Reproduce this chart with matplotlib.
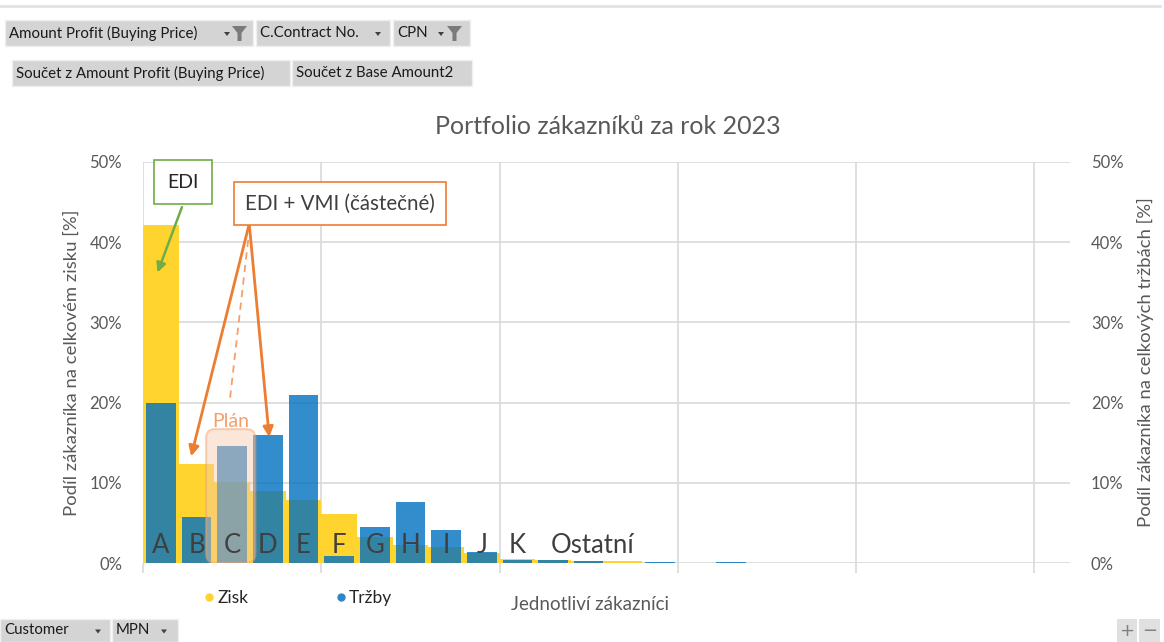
import numpy as np
import matplotlib
matplotlib.use("Agg")
import matplotlib.pyplot as plt
from matplotlib.patches import Rectangle, FancyBboxPatch, Polygon
from matplotlib.lines import Line2D

plt.rcParams['font.family'] = ['Lato', 'DejaVu Sans']

# data (percent shares per customer)
zakaznici = list("ABCDEFGHIJK") + [""] * 15
zisk = [42.2, 12.3, 10.1, 9.0, 7.9, 6.1, 3.2, 2.2, 2.0, 1.2, 0.5,
        0.4, 0.3, 0.2, 0, 0, 0, 0, 0, 0, 0, 0, 0, 0, 0, 0]
trzby = [20.0, 5.7, 14.6, 16.0, 21.0, 0.9, 4.5, 7.6, 4.1, 1.4, 0.4,
         0.35, 0.3, 0, 0.15, 0, 0.15, 0, 0, 0, 0, 0, 0, 0, 0, 0]
ostatni_label = "Ostatní"
ostatni_pos = 12.1
y_ticks = [0, 10, 20, 30, 40, 50]

W, H = 1164, 642
YELLOW = "#FFD42F"
BLUE = "#0070C0"
GRAY = "#595959"
GRID = "#D9D9D9"
ORANGE = "#ED7D31"

fig = plt.figure(figsize=(W / 100, H / 100), dpi=100)


def fx(px):
    return px / W


def fy(py):
    return 1 - py / H


ax = fig.add_axes([fx(143), fy(563), (1070 - 143) / W, (563 - 162) / H])
ax2 = ax.twinx()

x = np.arange(len(zakaznici))
ax.bar(x, zisk, width=1.0, color=YELLOW, zorder=2)
ax2.bar(x, trzby, width=0.83, color=BLUE, alpha=0.8, zorder=2)

for a in (ax, ax2):
    a.set_xlim(-0.5, len(zakaznici) - 0.5)
    a.set_ylim(0, 50)
    a.set_yticks(y_ticks)
    a.set_yticklabels([f"{v}%" for v in y_ticks])
    for s in a.spines.values():
        s.set_visible(False)
    a.tick_params(axis='y', length=0, colors=GRAY, labelsize=12, pad=15)

ax.set_xticks(np.arange(-0.5, len(zakaznici), 5))
ax.set_xticklabels([])
ax.tick_params(axis='x', length=7, color=GRID, width=1.2)
ax.grid(True, color=GRID, lw=1.2, zorder=0)
ax.set_axisbelow(True)

ax.set_ylabel("Podíl zákazníka na celkovém zisku [%]", color=GRAY, fontsize=13.3)
ax.yaxis.set_label_coords((80 - 143) / 927, 0.5)
ax2.set_ylabel("Podíl zákazníka na celkových tržbách [%]", color=GRAY, fontsize=13.3)
ax2.yaxis.set_label_coords((1137 - 143) / 927, 0.5)

# customer letters inside the bars
for i, lab in enumerate(zakaznici):
    if lab:
        ax2.text(i, 1.2, lab, ha='center', va='baseline', fontsize=18.5,
                 color="#3F3F3F", zorder=6)
ax2.text(ostatni_pos, 1.2, ostatni_label, ha='center', va='baseline',
         fontsize=18.5, color="#3F3F3F", zorder=6)

# "Plán" highlight around customer C
plan = FancyBboxPatch((1.27, 0.0), 1.38, 16.7,
                      boxstyle="round,pad=0,rounding_size=0.25",
                      mutation_aspect=4.4, transform=ax2.transData,
                      facecolor="#F8CBAD", alpha=0.45, edgecolor="#F4A06A",
                      lw=1.6, zorder=5)
ax2.add_patch(plan)
ax2.text(1.95, 16.6, "Plán", ha='center', va='bottom', fontsize=14,
         color="#F4A06A", zorder=6)

# EDI callout
ax2.annotate("", xy=(-0.12, 35.9), xytext=(0.62, 44.7),
             arrowprops=dict(arrowstyle="-|>", color="#70AD47", lw=1.8,
                             mutation_scale=14), zorder=7)
ax2.text(0.62, 47.5, "EDI", ha='center', va='center', fontsize=14,
         color="#262626", zorder=8,
         bbox=dict(boxstyle="square,pad=0.7", fc="white", ec="#70AD47", lw=1.2))

# EDI + VMI callout
for tip in [(0.85, 13.3), (3.04, 15.7)]:
    ax2.annotate("", xy=tip, xytext=(2.48, 42.3),
                 arrowprops=dict(arrowstyle="-|>", color=ORANGE, lw=2,
                                 mutation_scale=15, shrinkA=0, shrinkB=0),
                 zorder=7)
ax2.plot([2.45, 1.94], [40.3, 20.5], ls=(0, (4, 3)), color="#F4A06A",
         lw=1.3, zorder=7)
ax2.text(5.03, 44.8, "EDI + VMI (částečné)", ha='center', va='center',
         fontsize=14.8, color="#404040", zorder=8,
         bbox=dict(boxstyle="square,pad=0.55", fc="white", ec=ORANGE, lw=1.2))

# title, x label, legend
fig.text(fx(608), fy(126), "Portfolio zákazníků za rok 2023", ha='center',
         va='center', fontsize=18, color=GRAY)
fig.text(fx(590), fy(605), "Jednotliví zákazníci", ha='center', va='center',
         fontsize=13.5, color=GRAY)
handles = [Line2D([], [], ls='none', marker='o', ms=5, color=YELLOW),
           Line2D([], [], ls='none', marker='o', ms=5, color="#2E86C8")]
fig.legend(handles, ["Zisk", "Tržby"], loc='center left',
           bbox_to_anchor=(fx(188), fy(598)), ncol=2, frameon=False,
           handlelength=0.6, handletextpad=0.2, columnspacing=5.0,
           fontsize=12.5, labelcolor="#262626")

# pivot-table field buttons
BTN = "#D4D4D4"


def button(x0, y0, x1, y1, label, arrow=None, funnel=None):
    fig.patches.append(Rectangle((fx(x0), fy(y1)), fx(x1 - x0), (y1 - y0) / H,
                                 transform=fig.transFigure, fc=BTN, ec="#EFEFEF",
                                 lw=1))
    fig.text(fx(x0 + 4), fy((y0 + y1) / 2), label, ha='left', va='center',
             fontsize=10.8, color="#1A1A1A")
    if arrow is not None:
        ay = (y0 + y1) / 2 + 1
        fig.patches.append(Polygon([(fx(arrow - 3), fy(ay - 2)), (fx(arrow + 3), fy(ay - 2)),
                                    (fx(arrow), fy(ay + 2))],
                                   transform=fig.transFigure, fc="#404040", ec='none'))
    if funnel is not None:
        t = y0 + 6
        pts = [(funnel, t), (funnel + 15, t), (funnel + 9.5, t + 7),
               (funnel + 9.5, t + 15), (funnel + 5.5, t + 15), (funnel + 5.5, t + 7)]
        fig.patches.append(Polygon([(fx(px), fy(py)) for px, py in pts],
                                   transform=fig.transFigure, fc="#7A7A7A", ec='none'))


fig.add_artist(Line2D([fx(0), fx(1160)], [fy(6), fy(6)], color="#E3E3E3", lw=2))
button(5, 20, 253, 46, "Amount Profit (Buying Price)", arrow=227, funnel=232)
button(256, 20, 390, 46, "C.Contract No.", arrow=378)
button(393, 20, 470, 46, "CPN", arrow=441, funnel=447)
button(12, 60, 290, 86, "Součet z Amount Profit (Buying Price)")
button(292, 60, 472, 86, "Součet z Base Amount2")
button(0, 619, 110, 642, "Customer", arrow=98)
button(112, 619, 178, 642, "MPN", arrow=164)
fig.patches.append(Rectangle((fx(1117), fy(642)), fx(20), 23 / H,
                             transform=fig.transFigure, fc="#E0E0E0", ec='none'))
fig.patches.append(Rectangle((fx(1139), fy(642)), fx(21), 23 / H,
                             transform=fig.transFigure, fc="#E0E0E0", ec='none'))
fig.text(fx(1127), fy(631), "+", ha='center', va='center', fontsize=13,
         color="#7F7F7F", family=['DejaVu Sans'])
fig.text(fx(1149.5), fy(631), "\u2212", ha='center', va='center', fontsize=13,
         color="#7F7F7F", family=['DejaVu Sans'])

fig.savefig("out.png", dpi=100)
